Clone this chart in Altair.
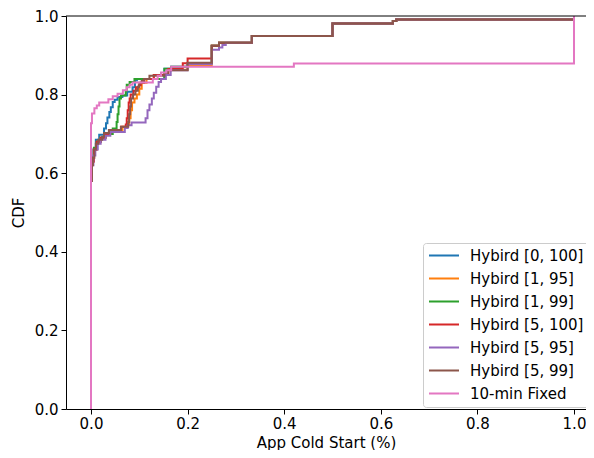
import altair as alt
import pandas as pd

series_names = ["Hybird [0, 100]", "Hybird [1, 95]", "Hybird [1, 99]", "Hybird [5, 100]",
                "Hybird [5, 95]", "Hybird [5, 99]", "10-min Fixed"]
series_colors = ["#1f77b4", "#ff7f0e", "#2ca02c", "#d62728", "#9467bd", "#8c564b", "#e377c2"]

blue_x = [0, 0, 0.002, 0.005, 0.010, 0.017, 0.027, 0.031, 0.034, 0.038, 0.041, 0.045, 0.049, 0.055,
          0.065, 0.075, 0.086, 0.091, 0.095, 0.152, 0.166, 0.2, 0.25, 0.265, 0.333, 0.5, 0.625, 0.632, 1.0]
blue_y = [0, 0.60, 0.64, 0.66, 0.685, 0.698, 0.714, 0.727, 0.742, 0.756, 0.768, 0.781, 0.787, 0.794,
          0.798, 0.807, 0.819, 0.836, 0.840, 0.866, 0.871, 0.880, 0.924, 0.932, 0.949, 0.981, 0.987, 0.991, 1.0]

orange_x = [0, 0, 0.002, 0.006, 0.012, 0.020, 0.030, 0.040, 0.065, 0.076, 0.079, 0.082, 0.085, 0.090,
            0.095, 0.100, 0.105, 0.115, 0.130, 0.160, 0.200, 0.25, 0.265, 0.333, 0.5, 0.625, 0.632, 1.0]
orange_y = [0, 0.59, 0.63, 0.66, 0.68, 0.69, 0.70, 0.71, 0.718, 0.725, 0.74, 0.76, 0.78, 0.79,
            0.80, 0.815, 0.83, 0.84, 0.85, 0.863, 0.875, 0.924, 0.932, 0.949, 0.981, 0.987, 0.991, 1.0]

green_x = [0, 0, 0.002, 0.006, 0.012, 0.020, 0.030, 0.045, 0.053, 0.055, 0.057, 0.059, 0.062, 0.072,
           0.074, 0.080, 0.090, 0.152, 0.166, 0.2, 0.25, 0.265, 0.333, 0.5, 0.625, 0.632, 1.0]
green_y = [0, 0.60, 0.64, 0.665, 0.68, 0.69, 0.70, 0.714, 0.73, 0.75, 0.77, 0.79, 0.798, 0.81,
           0.825, 0.832, 0.840, 0.866, 0.871, 0.880, 0.924, 0.932, 0.949, 0.981, 0.987, 0.991, 1.0]

red_x = [0, 0, 0.002, 0.006, 0.012, 0.020, 0.030, 0.040, 0.062, 0.072, 0.074, 0.076, 0.078, 0.080,
         0.082, 0.088, 0.093, 0.099, 0.103, 0.110, 0.130, 0.160, 0.190, 0.200, 0.25, 0.265, 0.333,
         0.5, 0.625, 0.632, 1.0]
red_y = [0, 0.59, 0.63, 0.66, 0.68, 0.69, 0.70, 0.71, 0.718, 0.724, 0.74, 0.76, 0.78, 0.79,
         0.80, 0.81, 0.819, 0.824, 0.83, 0.84, 0.85, 0.865, 0.880, 0.892, 0.924, 0.932, 0.949,
         0.981, 0.987, 0.991, 1.0]

purple_x = [0, 0, 0.002, 0.005, 0.009, 0.014, 0.020, 0.030, 0.040, 0.070, 0.076, 0.084, 0.113, 0.117,
            0.121, 0.126, 0.130, 0.135, 0.140, 0.145, 0.155, 0.165, 0.200, 0.25, 0.265, 0.272, 0.279,
            0.333, 0.5, 0.625, 0.632, 1.0]
purple_y = [0, 0.58, 0.62, 0.645, 0.66, 0.675, 0.685, 0.695, 0.705, 0.715, 0.722, 0.729, 0.74, 0.76,
            0.775, 0.79, 0.805, 0.82, 0.832, 0.84, 0.85, 0.862, 0.878, 0.914, 0.920, 0.926, 0.932,
            0.949, 0.981, 0.987, 0.991, 1.0]

brown_x = [0, 0, 0.002, 0.004, 0.007, 0.010, 0.015, 0.023, 0.027, 0.037, 0.062, 0.077, 0.079, 0.081,
           0.083, 0.087, 0.092, 0.097, 0.100, 0.105, 0.110, 0.121, 0.152, 0.159, 0.200, 0.25, 0.265,
           0.333, 0.5, 0.625, 0.632, 1.0]
brown_y = [0, 0.58, 0.62, 0.639, 0.66, 0.675, 0.685, 0.693, 0.702, 0.710, 0.718, 0.73, 0.75, 0.77,
           0.79, 0.80, 0.81, 0.82, 0.83, 0.835, 0.84, 0.848, 0.855, 0.862, 0.881, 0.924, 0.932,
           0.949, 0.981, 0.987, 0.991, 1.0]

pink_x = [0, 0, 0.002, 0.007, 0.012, 0.017, 0.036, 0.045, 0.055, 0.066, 0.074, 0.080, 0.086, 0.128,
          0.138, 0.145, 0.156, 0.166, 0.42, 1.0, 1.0]
pink_y = [0, 0.727, 0.752, 0.765, 0.772, 0.780, 0.788, 0.796, 0.802, 0.811, 0.819, 0.825, 0.831, 0.840,
          0.848, 0.856, 0.862, 0.871, 0.879, 0.879, 1.0]

xs = [blue_x, orange_x, green_x, red_x, purple_x, brown_x, pink_x]
ys = [blue_y, orange_y, green_y, red_y, purple_y, brown_y, pink_y]

FONT = "DejaVu Sans"
FS = 15
color_scale = alt.Scale(domain=series_names, range=series_colors)
x_scale = alt.Scale(domain=[-0.05176, 1.02484], nice=False, zero=False)
y_scale = alt.Scale(domain=[0, 1], nice=False)

layers = []
for name, sx, sy in zip(series_names, xs, ys):
    df = pd.DataFrame({"x": sx, "y": sy, "i": list(range(len(sx))), "series": name})
    layers.append(
        alt.Chart(df).mark_line(interpolate="step-after", strokeWidth=2, clip=True).encode(
            x=alt.X("x:Q", scale=x_scale,
                    axis=alt.Axis(title="App Cold Start (%)", values=[0, 0.2, 0.4, 0.6, 0.8, 1.0],
                                  format=".1f", grid=False)),
            y=alt.Y("y:Q", scale=y_scale,
                    axis=alt.Axis(title="CDF", values=[0, 0.2, 0.4, 0.6, 0.8, 1.0],
                                  format=".1f", grid=False)),
            color=alt.Color("series:N", scale=color_scale, title=None,
                            legend=alt.Legend(orient="none", legendX=357, legendY=227,
                                              symbolType="stroke", symbolSize=900,
                                              symbolStrokeWidth=2, clipHeight=15,
                                              rowPadding=7, labelFontSize=FS, labelFont=FONT,
                                              labelColor="black", labelOffset=10,
                                              padding=5, fillColor="white", strokeColor="#cccccc",
                                              cornerRadius=3)),
            order="i:Q",
        )
    )

# top spine (the right spine lies outside the visible page in the reference)
top_spine = alt.Chart().mark_rule(color="black", strokeWidth=1).encode(y=alt.datum(1.0))

chart = alt.layer(*layers, top_spine).properties(
    width=520, height=393,
    autosize=alt.AutoSizeParams(type="none"),
    padding={"left": 58, "top": 8, "right": 0, "bottom": 41},
).configure_view(stroke=None).configure_axis(
    domainColor="black", tickColor="black", tickSize=5, labelColor="black",
    labelFont=FONT, labelFontSize=FS, titleFont=FONT, titleFontSize=FS,
    titleFontWeight="normal", titleColor="black", labelPadding=3,
).configure_axisY(titlePadding=8).configure_axisX(titlePadding=4, labelPadding=2)

chart.save("out.html", embed_options={"renderer": "svg", "actions": False})
